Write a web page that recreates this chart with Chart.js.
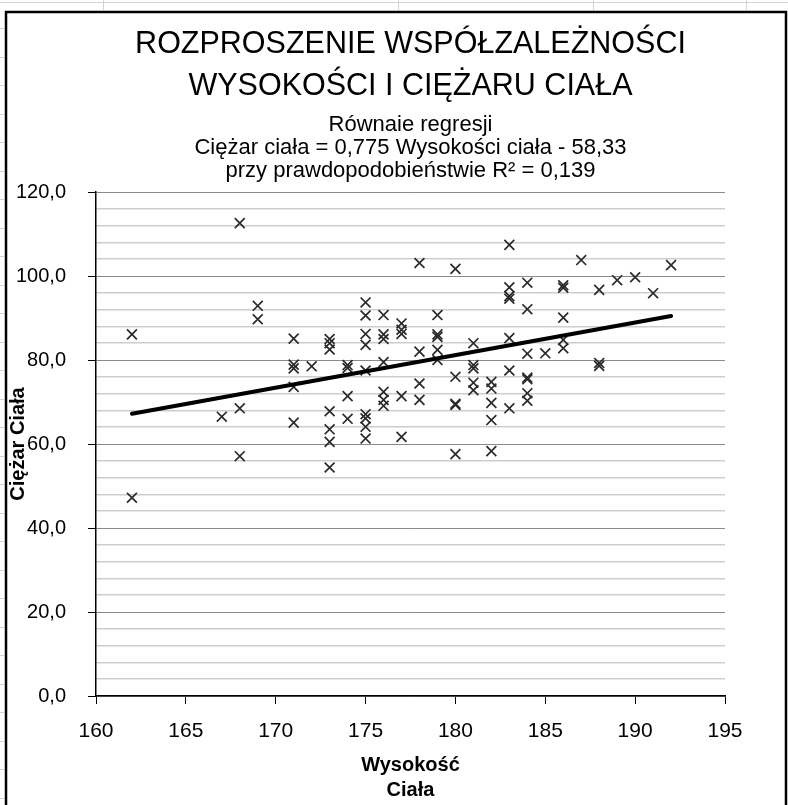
<!DOCTYPE html>
<html lang="pl">
<head>
<meta charset="utf-8">
<title>Rozproszenie współzależności wysokości i ciężaru ciała</title>
<script src="https://cdn.jsdelivr.net/npm/chart.js@4.4.1/dist/chart.umd.min.js"></script>
<style>
    html, body { margin: 0; padding: 0; background: #fff; }
    #box { width: 788px; height: 805px; position: relative; }
</style>
</head>
<body>
<div id="box"><canvas id="wykres"></canvas></div>
<script>
const wzrost = [
    162, 162,
    167,
    168, 168, 168,
    169, 169,
    171, 171, 171, 171, 171,
    172,
    173, 173, 173, 173, 173, 173, 173,
    174, 174, 174, 174,
    175, 175, 175, 175, 175, 175, 175, 175, 175,
    176, 176, 176, 176, 176, 176, 176,
    177, 177, 177, 177, 177,
    178, 178, 178, 178,
    179, 179, 179, 179, 179,
    180, 180, 180, 180, 180,
    181, 181, 181, 181, 181,
    182, 182, 182, 182, 182,
    183, 183, 183, 183, 183, 183, 183,
    184, 184, 184, 184, 184, 184, 184,
    185,
    186, 186, 186, 186, 186,
    187,
    188, 188, 188,
    189,
    190,
    191,
    192
];
const ciezar = [
    86.1, 47.2,
    66.5,
    112.6, 68.5, 57.1,
    92.9, 89.7,
    85.1, 78.9, 78.0, 73.6, 65.1,
    78.5,
    85.0, 84.0, 82.5, 67.8, 63.5, 60.5, 54.4,
    78.8, 78.1, 71.4, 66.0,
    93.7, 90.6, 86.2, 83.6, 77.5, 67.1, 66.1, 64.1, 61.3,
    90.7, 86.1, 85.0, 79.5, 72.4, 70.5, 69.1,
    88.7, 87.2, 86.2, 71.4, 61.7,
    103.1, 82.0, 74.4, 70.5,
    90.7, 86.1, 85.5, 82.4, 80.0,
    101.7, 76.0, 69.6, 69.3, 57.6,
    84.0, 78.8, 78.0, 74.6, 72.8,
    74.8, 73.2, 69.8, 65.7, 58.3,
    107.4, 97.3, 95.2, 94.6, 85.2, 77.5, 68.5,
    98.4, 92.1, 81.5, 75.8, 75.4, 72.1, 70.3,
    81.6,
    97.8, 97.2, 90.1, 84.8, 82.8,
    103.8,
    96.7, 79.3, 78.6,
    99.0,
    99.7,
    95.9,
    102.6
];

// linia regresji z opisu wykresu
const nachylenie = 0.775;
const wyrazWolny = -58.33;

// osie
const xTicks = [160, 165, 170, 175, 180, 185, 190, 195];
const yTicks = [0, 20, 40, 60, 80, 100, 120];
const yKrokPomocniczy = 4;

const tytul = ['ROZPROSZENIE WSPÓŁZALEŻNOŚCI', 'WYSOKOŚCI I CIĘŻARU CIAŁA'];
const podtytul = [
    'Równaie regresji',
    'Ciężar ciała = 0,775 Wysokości ciała - 58,33',
    'przy prawdopodobieństwie R² = 0,139'
];
const tytulX = ['Wysokość', 'Ciała'];
const tytulY = 'Ciężar Ciała';

const czcionka = "'Liberation Sans', Arial, sans-serif";

const punkty = wzrost.map(function (w, i) { return {x: w, y: ciezar[i]}; });
const xOd = Math.min.apply(null, wzrost);
const xDo = Math.max.apply(null, wzrost);
const trend = [xOd, xDo].map(function (x) { return {x: x, y: nachylenie * x + wyrazWolny}; });

function glowna(ctx) {
    return ctx.tick && yTicks.indexOf(ctx.tick.value) !== -1;
}

// biale tlo, ramka wykresu i slady siatki arkusza
const ramka = {
    id: 'ramka',
    beforeDraw: function (chart) {
        const c = chart.ctx;
        c.save();
        c.fillStyle = '#fff';
        c.fillRect(0, 0, chart.width, chart.height);
        c.strokeStyle = '#d4d4d4';
        c.lineWidth = 1;
        c.beginPath();
        c.moveTo(0, 2.5); c.lineTo(chart.width, 2.5);
        [103, 398, 593, 746].forEach(function (x) { c.moveTo(x + 0.5, 0); c.lineTo(x + 0.5, 10); });
        for (let y = 28; y < chart.height; y += 28.5) { c.moveTo(0, Math.round(y) + 0.5); c.lineTo(4, Math.round(y) + 0.5); }
        c.stroke();
        c.restore();
    },
    afterDraw: function (chart) {
        const c = chart.ctx;
        c.save();
        c.strokeStyle = '#000';
        c.lineWidth = 2.5;
        c.beginPath();
        c.moveTo(6, chart.height + 2);
        c.lineTo(6, 12);
        c.lineTo(786, 12);
        c.lineTo(786, chart.height + 2);
        c.stroke();
        c.restore();
    }
};

new Chart(document.getElementById('wykres'), {
    type: 'scatter',
    data: {
        datasets: [{
            type: 'line',
            label: 'Regresja',
            data: trend,
            borderColor: '#000',
            borderWidth: 4,
            borderCapStyle: 'round',
            pointRadius: 0,
            order: 0
        }, {
            label: 'Ciężar ciała',
            data: punkty,
            pointStyle: 'crossRot',
            pointRadius: 7,
            pointBorderWidth: 1.7,
            borderColor: '#2a2a2a',
            backgroundColor: '#2a2a2a',
            order: 1
        }]
    },
    plugins: [ramka],
    options: {
        responsive: true,
        maintainAspectRatio: false,
        animation: false,
        layout: {
            padding: {left: 6, top: 12, right: 63, bottom: 0}
        },
        plugins: {
            legend: {display: false},
            tooltip: {enabled: false},
            title: {
                display: true,
                text: tytul,
                fullSize: false,
                color: '#000',
                font: {family: czcionka, size: 30.5, weight: 'normal', lineHeight: 42 / 30.5},
                padding: {top: 12, bottom: 5}
            },
            subtitle: {
                display: true,
                text: podtytul,
                fullSize: false,
                color: '#000',
                font: {family: czcionka, size: 22, weight: 'normal', lineHeight: 23 / 22},
                padding: {top: 0.5, bottom: 9.5}
            }
        },
        scales: {
            x: {
                type: 'linear',
                min: xTicks[0],
                max: xTicks[xTicks.length - 1],
                afterFit: function (s) { s.height = 109; },
                ticks: {
                    stepSize: xTicks[1] - xTicks[0],
                    padding: 15,
                    maxRotation: 0,
                    color: '#000',
                    font: {family: czcionka, size: 21},
                    callback: function (v) { return String(v); }
                },
                grid: {
                    drawOnChartArea: false,
                    drawTicks: true,
                    tickLength: 8,
                    tickColor: '#000'
                },
                border: {color: '#000', width: 1.5},
                title: {
                    display: true,
                    text: tytulX,
                    color: '#000',
                    font: {family: czcionka, size: 20, weight: 'bold', lineHeight: 1.25},
                    padding: {top: 8, bottom: 2.5}
                }
            },
            y: {
                type: 'linear',
                min: yTicks[0],
                max: yTicks[yTicks.length - 1],
                afterFit: function (s) { s.width = 90; },
                ticks: {
                    stepSize: yKrokPomocniczy,
                    maxTicksLimit: 50,
                    autoSkip: false,
                    padding: 22,
                    color: '#000',
                    font: {family: czcionka, size: 20},
                    callback: function (v) {
                        return yTicks.indexOf(v) !== -1 ? v.toFixed(1).replace('.', ',') : '';
                    }
                },
                grid: {
                    color: function (ctx) { return glowna(ctx) ? '#8a8a8a' : '#cdcdcd'; },
                    lineWidth: function (ctx) { return glowna(ctx) ? 1 : 1.5; },
                    tickColor: function (ctx) { return glowna(ctx) ? '#000' : 'rgba(0,0,0,0)'; },
                    tickLength: 8
                },
                border: {color: '#000', width: 1.5},
                title: {
                    display: true,
                    text: tytulY,
                    color: '#000',
                    font: {family: czcionka, size: 20, weight: 'bold', lineHeight: 1.2},
                    padding: 0
                }
            }
        }
    }
});
</script>
</body>
</html>
